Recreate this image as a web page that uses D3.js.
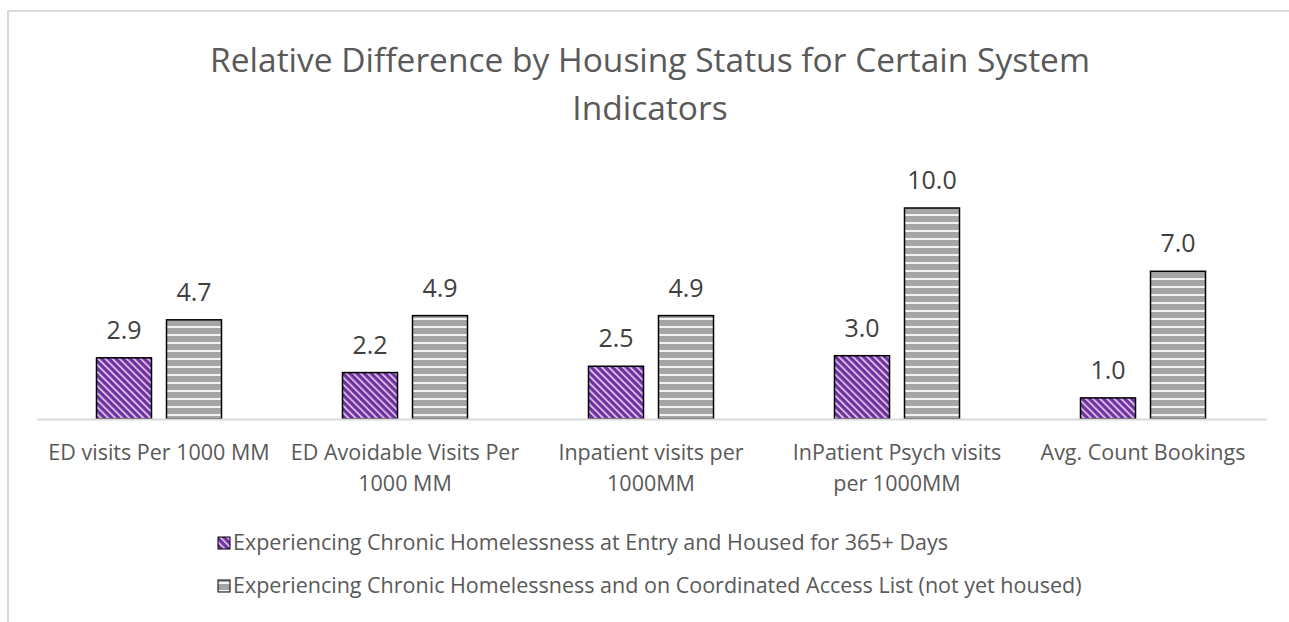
<!DOCTYPE html>
<html>
<head>
<meta charset="utf-8">
<script src="https://cdn.jsdelivr.net/npm/d3@7"></script>
<style>
  body { margin: 0; background: #fff; }
  text { font-family: "Open Sans", "Noto Sans", sans-serif; }
</style>
</head>
<body>
<script>
// chart values
let categories = [
  ["ED visits Per 1000 MM"],
  ["ED Avoidable Visits Per", "1000 MM"],
  ["Inpatient visits per", "1000MM"],
  ["InPatient Psych visits", "per 1000MM"],
  ["Avg. Count Bookings"]
]
let housed = [2.9, 2.2, 2.5, 3.0, 1.0]
let notHoused = [4.7, 4.9, 4.9, 10.0, 7.0]
let seriesNames = [
  "Experiencing Chronic Homelessness at Entry and Housed for 365+ Days",
  "Experiencing Chronic Homelessness and on Coordinated Access List (not yet housed)"
]
let titleLines = ["Relative Difference by Housing Status for Certain System", "Indicators"]

let w = 1289
let h = 622

let svg = d3.select('body').append('svg')
  .attr('width', w)
  .attr('height', h)

// patterns
let defs = svg.append('defs')
let p1 = defs.append('pattern')
  .attr('id', 'diag')
  .attr('patternUnits', 'userSpaceOnUse')
  .attr('width', 5).attr('height', 5)
  .attr('patternTransform', 'rotate(-45)')
p1.append('rect').attr('width', 5).attr('height', 5).attr('fill', '#7030a0')
p1.append('rect').attr('x', 0).attr('width', 1.6).attr('height', 5).attr('fill', '#e4d6f0')

let p2 = defs.append('pattern')
  .attr('id', 'horiz')
  .attr('patternUnits', 'userSpaceOnUse')
  .attr('width', 8).attr('height', 8)
p2.append('rect').attr('width', 8).attr('height', 8).attr('fill', '#a6a6a6')
p2.append('rect').attr('y', 6).attr('width', 8).attr('height', 2).attr('fill', '#f2f2f2')

// border
svg.append('rect')
  .attr('x', 8).attr('y', 11)
  .attr('width', w + 10).attr('height', h)
  .attr('fill', 'none')
  .attr('stroke', '#d9d9d9')
  .attr('stroke-width', 2)

// title
svg.append('text')
  .attr('fill', '#595959')
  .attr('font-size', 33.5)
  .attr('text-anchor', 'middle')
  .selectAll('tspan')
  .data(titleLines).enter().append('tspan')
    .attr('x', 650)
    .attr('y', (d, i) => 72 + i * 48)
    .text(d => d)

let x = d3.scaleBand()
  .domain(d3.range(categories.length))
  .range([37, 1267])

let y = d3.scaleLinear()
  .domain([0, 10])
  .range([419, 208])

let barW = 55
let gap = 15

let g = svg.append('g')

let groups = g.selectAll('g.cat')
  .data(categories).enter().append('g')
  .attr('class', 'cat')

let series = [
  {vals: housed, fill: 'url(#diag)', dx: -gap / 2 - barW},
  {vals: notHoused, fill: 'url(#horiz)', dx: gap / 2}
]

series.forEach(s => {
  g.selectAll(null)
    .data(s.vals).enter().append('rect')
      .attr('x', (d, i) => x(i) + x.bandwidth() / 2 + s.dx - 1)
      .attr('y', d => y(d))
      .attr('width', barW)
      .attr('height', d => y(0) - y(d))
      .attr('fill', s.fill)
      .attr('stroke', '#000')
      .attr('stroke-width', 1.5)

  g.selectAll(null)
    .data(s.vals).enter().append('text')
      .attr('x', (d, i) => x(i) + x.bandwidth() / 2 + s.dx - 1 + barW / 2)
      .attr('y', d => y(d) - 19)
      .attr('text-anchor', 'middle')
      .attr('font-size', 25)
      .attr('fill', '#404040')
      .text(d => d.toFixed(1))
})

// axis line
svg.append('line')
  .attr('x1', 37).attr('x2', 1267)
  .attr('y1', y(0) + 0.5).attr('y2', y(0) + 0.5)
  .attr('stroke', '#d9d9d9')
  .attr('stroke-width', 2)

// category labels
groups.append('text')
  .attr('text-anchor', 'middle')
  .attr('font-size', 21.5)
  .attr('fill', '#595959')
  .selectAll('tspan')
  .data(d => d).enter().append('tspan')
    .attr('x', function() {
      let i = categories.indexOf(d3.select(this.parentNode).datum())
      return x(i) + x.bandwidth() / 2 - 1
    })
    .attr('y', (d, i) => 460 + i * 31)
    .text(d => d)

// legend
let leg = svg.append('g')
seriesNames.forEach((name, i) => {
  let ly = 543 + i * 43
  leg.append('rect')
    .attr('x', 218).attr('y', ly - 6)
    .attr('width', 12).attr('height', 12)
    .attr('fill', i === 0 ? 'url(#diag)' : 'url(#horiz)')
    .attr('stroke', '#000').attr('stroke-width', 1)
  leg.append('text')
    .attr('x', 233).attr('y', ly + 7)
    .attr('font-size', 21.5)
    .attr('fill', '#595959')
    .text(name)
})
</script>
</body>
</html>
